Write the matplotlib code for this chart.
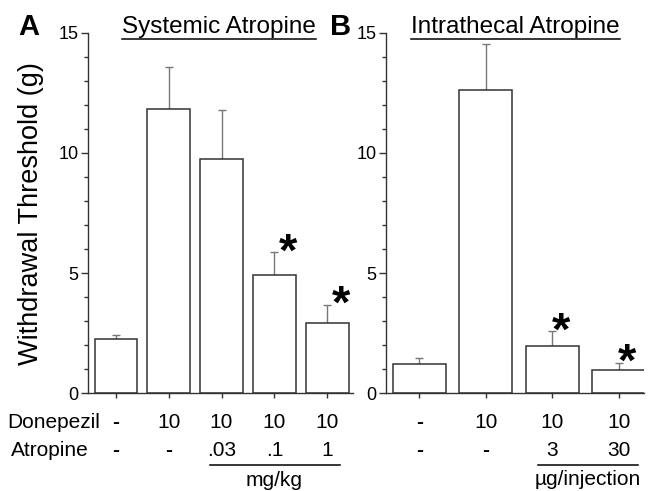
import matplotlib
matplotlib.use('Agg')
import matplotlib.pyplot as plt
from matplotlib.ticker import MultipleLocator
from matplotlib.lines import Line2D

plt.rcParams['font.family'] = ['Liberation Sans', 'DejaVu Sans']

# Panel A - systemic atropine
donepezil_A = ['-', '10', '10', '10', '10']
atropine_A = ['-', '-', '.03', '.1', '1']
mean_A = [2.26, 11.81, 9.76, 4.92, 2.92]
sem_A = [0.18, 1.74, 2.02, 0.95, 0.77]
sig_A = [False, False, False, True, True]

# Panel B - intrathecal atropine
donepezil_B = ['-', '10', '10', '10']
atropine_B = ['-', '-', '3', '30']
mean_B = [1.21, 12.59, 1.95, 0.95]
sem_B = [0.24, 1.94, 0.63, 0.31]
sig_B = [False, False, True, True]

W, H = 648, 491
fig = plt.figure(figsize=(W / 100, H / 100), dpi=100)

y0_px, y15_px = 393.3, 32.5
axA = fig.add_axes([88 / W, (H - y0_px) / H, 265 / W, (y0_px - y15_px) / H])
axB = fig.add_axes([386 / W, (H - y0_px) / H, 258 / W, (y0_px - y15_px) / H])


def ax_frac(ypx):
    # pixel row -> axes fraction below the x axis
    return (y0_px - ypx) / (y0_px - y15_px)


def draw_panel(ax, means, sems, sig, width, xlim, star_dx):
    x = list(range(len(means)))
    ax.bar(x, means, width=width, color='white', edgecolor='#333333',
           linewidth=1.1, zorder=2)
    ax.errorbar(x, means, yerr=[[0] * len(means), sems], fmt='none',
                ecolor='#777777', elinewidth=1.0, capsize=3, capthick=1.0,
                zorder=1)
    for i in x:
        if sig[i]:
            ax.annotate('*', xy=(i, means[i] + sems[i]),
                        xytext=(star_dx, -9.5), textcoords='offset points',
                        ha='center', va='baseline', fontsize=34,
                        fontweight='bold')
    ax.set_xlim(*xlim)
    ax.set_ylim(0, 15)
    ax.yaxis.set_major_locator(MultipleLocator(5))
    ax.yaxis.set_minor_locator(MultipleLocator(1))
    ax.set_xticks(x)
    ax.set_xticklabels([])
    for s in ['top', 'right']:
        ax.spines[s].set_visible(False)
    for s in ['left', 'bottom']:
        ax.spines[s].set_linewidth(1.0)
        ax.spines[s].set_color('#333333')
    ax.tick_params(axis='y', which='major', length=5, width=1.0,
                   color='#333333', labelsize=13, pad=2)
    ax.tick_params(axis='y', which='minor', length=3, width=1.0,
                   color='#333333')
    ax.tick_params(axis='x', length=3.5, width=1.0, color='#333333')


draw_panel(axA, mean_A, sem_A, sig_A, 0.81, (-0.53, 4.49), 10)
draw_panel(axB, mean_B, sem_B, sig_B, 0.79, (-0.5, 3.38), 6)


def row_text(ax, x, ypx, s, tr):
    weight = 'bold' if s == '-' else 'normal'
    ax.text(x, ax_frac(ypx), s, transform=tr, ha='center', va='baseline',
            fontsize=15, fontweight=weight, clip_on=False)


# treatment rows under the bars
for ax, don, atr in [(axA, donepezil_A, atropine_A), (axB, donepezil_B, atropine_B)]:
    tr = ax.get_xaxis_transform()
    for i, (d, a) in enumerate(zip(don, atr)):
        row_text(ax, i, 428, d, tr)
        row_text(ax, i, 456, a, tr)

trA = axA.get_xaxis_transform()
axA.add_line(Line2D([1.78, 4.25], [ax_frac(465)] * 2, transform=trA,
                    color='black', lw=1.1, clip_on=False))
axA.text(3.0, ax_frac(486), 'mg/kg', transform=trA, ha='center',
         va='baseline', fontsize=15)
trB = axB.get_xaxis_transform()
axB.add_line(Line2D([1.78, 3.29], [ax_frac(465)] * 2, transform=trB,
                    color='black', lw=1.1, clip_on=False))
axB.text(2.53, ax_frac(485), 'µg/injection', transform=trB, ha='center',
         va='baseline', fontsize=15)

fig.text(54 / W, (H - 428) / H, 'Donepezil', ha='center', va='baseline',
         fontsize=15)
fig.text(50 / W, (H - 456) / H, 'Atropine', ha='center', va='baseline',
         fontsize=15)

# y label
fig.text(31 / W, (H - 214) / H, 'Withdrawal Threshold (g)', rotation=90,
         ha='center', va='center', fontsize=19.5)

# panel letters and titles
fig.text(18 / W, (H - 35) / H, 'A', ha='left', va='baseline', fontsize=21,
         fontweight='bold')
fig.text(330 / W, (H - 35) / H, 'B', ha='left', va='baseline', fontsize=21,
         fontweight='bold')
titles = [fig.text(219 / W, (H - 33) / H, 'Systemic Atropine', ha='center',
                   va='baseline', fontsize=17.5),
          fig.text(515.5 / W, (H - 33) / H, 'Intrathecal Atropine',
                   ha='center', va='baseline', fontsize=17.5)]

# underline the titles
fig.canvas.draw()
renderer = fig.canvas.get_renderer()
for t in titles:
    bb = t.get_window_extent(renderer)
    yl = (H - 39) / H
    fig.add_artist(Line2D([bb.x0 / W, bb.x1 / W], [yl, yl],
                          transform=fig.transFigure, color='black', lw=1.1))

fig.savefig('out.png', dpi=100)
